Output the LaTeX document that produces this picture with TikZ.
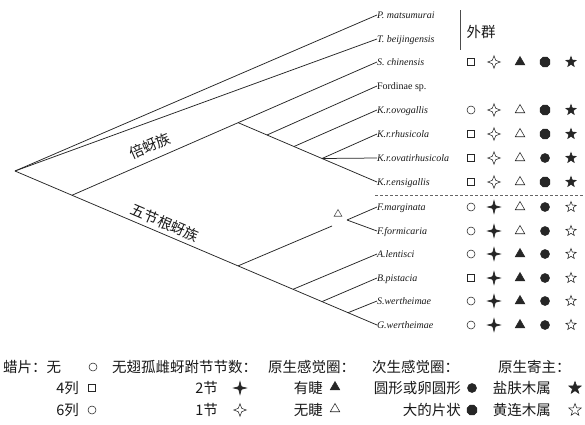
\documentclass[tikz,border=0pt]{standalone}
\usepackage{fontspec}
\setmainfont{Liberation Serif}
\newfontfamily\cjk{Noto Sans CJK SC}
\usetikzlibrary{shapes.geometric}
\tikzset{
 br/.style={draw=black!85, line width=0.75pt},
 lbl/.style={anchor=west, inner sep=0pt, outer sep=0pt, font=\fontsize{10}{10}\selectfont\itshape, text=black!90, text height=7pt, text depth=0.5pt},
 lblup/.style={lbl, font=\fontsize{10}{10}\selectfont},
 cj/.style={inner sep=0pt, font=\cjk\fontsize{14.5}{14.5}\selectfont, text=black!90, text height=12.3pt, text depth=1.5pt},
 sbase/.style={inner sep=0pt, outer sep=0pt, line width=0.55pt, draw=black!85},
 ocir/.style={sbase, circle, minimum size=8pt},
 osq/.style={sbase, rectangle, minimum size=7.5pt},
 ffour/.style={sbase, star, star points=4, star point ratio=3.4, fill=black!85, minimum size=13pt},
 ofour/.style={sbase, star, star points=4, star point ratio=2.6, minimum size=12.5pt},
 ftri/.style={sbase, regular polygon, regular polygon sides=3, fill=black!85, minimum size=11pt},
 otri/.style={sbase, regular polygon, regular polygon sides=3, minimum size=11pt},
 fdot/.style={sbase, circle, fill=black!85, minimum size=9pt},
 foct/.style={sbase, regular polygon, regular polygon sides=8, fill=black!85, minimum size=10.5pt},
 fstar/.style={sbase, star, star points=5, star point ratio=2.4, fill=black!85, minimum size=11pt},
 ostar/.style={sbase, star, star points=5, star point ratio=2.4, minimum size=11pt},
}
\newcommand\symrow[7]{%
 \node[#3] (#1c1) at (471,#2) {};
 \node[#4] (#1c2) at (494,#2) {};
 \node[#5] (#1c3) at (520,#2) {};
 \node[#6] (#1c4) at (545,#2) {};
 \node[#7] (#1c5) at (571,#2) {};}
\begin{document}
\begin{tikzpicture}[x=1pt,y=-1pt]
\useasboundingbox[fill=white] (0,0) rectangle (585,424);

% tip labels
\node[lbl] (P) at (377,15) {P. matsumurai};
\node[lbl] (T) at (377,39) {T. beijingensis};
\node[lbl] (S) at (377,62) {S. chinensis};
\node[lblup] (Fo) at (377,86) {Fordinae sp.};
\node[lbl] (ovo) at (377,110) {K.r.ovogallis};
\node[lbl] (rhu) at (377,134) {K.r.rhusicola};
\node[lbl] (ova) at (377,158) {K.r.ovatirhusicola};
\node[lbl] (ens) at (377,182) {K.r.ensigallis};
\node[lbl] (Fm) at (377,207) {F.marginata};
\node[lbl] (Ff) at (377,231) {F.formicaria};
\node[lbl] (Al) at (377,254) {A.lentisci};
\node[lbl] (Bp) at (377,278) {B.pistacia};
\node[lbl] (Sw) at (377,301) {S.wertheimae};
\node[lbl] (Gw) at (377,325) {G.wertheimae};

% internal nodes
\coordinate (root) at (15,171);
\coordinate (nF) at (72,195.25);
\coordinate (nS) at (238,122.6);
\coordinate (nFo) at (267,135);
\coordinate (nOv) at (294,146.5);
\coordinate (nRh) at (322,158.5);
\coordinate (nA) at (238,265.9);
\coordinate (gapE) at (332,226);
\coordinate (nFF) at (347,220);
\coordinate (nAl) at (293,289.3);
\coordinate (nBp) at (322,301.6);
\coordinate (nSw) at (348,312.7);

% branches
\draw[br] (root) -- (P.west);
\draw[br] (root) -- (T.west);
\draw[br] (root) -- (Gw.west);
\draw[br] (nF) -- (S.west);
\draw[br] (nS) -- (ens.west);
\draw[br] (nFo) -- (Fo.west);
\draw[br] (nOv) -- (ovo.west);
\draw[br] (nRh) -- (rhu.west);
\draw[br] (nRh) -- (ova.west);
\draw[br] (nA) -- (gapE);
\draw[br] (nFF) -- (Fm.west);
\draw[br] (nFF) -- (Ff.west);
\draw[br] (nAl) -- (Al.west);
\draw[br] (nBp) -- (Bp.west);
\draw[br] (nSw) -- (Sw.west);

\node[otri, minimum size=9pt, draw=black!70] (mk) at (338,214) {};

% clade labels
\node[cj, rotate=23.6] (fordini) at (150,146) {倍蚜族};
\node[cj, rotate=-23] (pemph) at (165,223) {五节根蚜族};

% outgroup mark
\coordinate (ogT) at (460,10);
\coordinate (ogB) at (460,50);
\draw[draw=black!70, line width=0.6pt] (ogT) -- (ogB);
\node[cj] (og) at (481,32) {外群};

% dashed separator
\coordinate (dL) at (375,195);
\coordinate (dR) at (585,195);
\draw[draw=black!60, line width=0.5pt, dash pattern=on 3pt off 2pt] (dL) -- (dR);

% character table
\symrow{S}{62}{osq}{ofour}{ftri}{foct}{fstar}
\symrow{ovo}{110}{ocir}{ofour}{otri}{foct}{fstar}
\symrow{rhu}{134}{osq}{ofour}{otri}{foct}{fstar}
\symrow{ova}{158}{osq}{ofour}{otri}{fdot}{fstar}
\symrow{ens}{182}{osq}{ofour}{otri}{foct}{fstar}
\symrow{Fm}{207}{ocir}{ffour}{otri}{fdot}{ostar}
\symrow{Ff}{231}{ocir}{ffour}{otri}{fdot}{ostar}
\symrow{Al}{254}{ocir}{ffour}{ftri}{fdot}{ostar}
\symrow{Bp}{278}{osq}{ffour}{ftri}{fdot}{ostar}
\symrow{Sw}{301}{ocir}{ffour}{ftri}{fdot}{ostar}
\symrow{Gw}{325}{ocir}{ffour}{ftri}{fdot}{ostar}

% legend row 1
\node[cj, anchor=west] (La) at (3,367) {蜡片：无};
\node[ocir] (Las) at (93,367) {};
\node[cj, anchor=west] (Lb) at (112,367) {无翅孤雌蚜跗节节数：};
\node[cj, anchor=west] (Lc) at (268,367) {原生感觉圈：};
\node[cj, anchor=west] (Ld) at (372,367) {次生感觉圈：};
\node[cj, anchor=west] (Le) at (498,367) {原生寄主：};
% legend row 2
\node[cj, anchor=east] (La2) at (79,388) {4列};
\node[osq] (La2s) at (92,388) {};
\node[cj, anchor=east] (Lb2) at (218,388) {2节};
\node[ffour] (Lb2s) at (240,388) {};
\node[cj, anchor=east] (Lc2) at (323,388) {有睫};
\node[ftri] (Lc2s) at (335,387) {};
\node[cj, anchor=east] (Ld2) at (461,388) {圆形或卵圆形};
\node[fdot] (Ld2s) at (472,388) {};
\node[cj, anchor=east] (Le2) at (551,388) {盐肤木属};
\node[fstar, minimum size=13pt] (Le2s) at (575,388) {};
% legend row 3
\node[cj, anchor=east] (La3) at (79,410) {6列};
\node[ocir] (La3s) at (92,410) {};
\node[cj, anchor=east] (Lb3) at (218,410) {1节};
\node[ofour] (Lb3s) at (240,410) {};
\node[cj, anchor=east] (Lc3) at (323,410) {无睫};
\node[otri] (Lc3s) at (335,409) {};
\node[cj, anchor=east] (Ld3) at (461,410) {大的片状};
\node[foct] (Ld3s) at (472,410) {};
\node[cj, anchor=east] (Le3) at (551,410) {黄连木属};
\node[ostar, minimum size=13pt] (Le3s) at (575,410) {};
\end{tikzpicture}
\end{document}
